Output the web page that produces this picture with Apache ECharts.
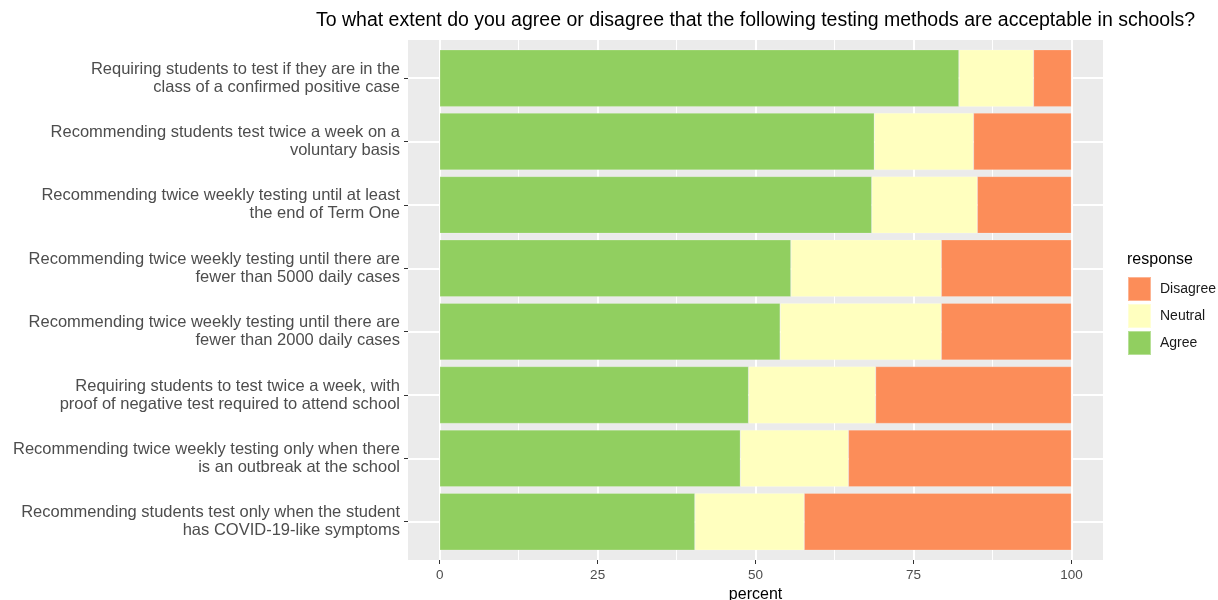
<!DOCTYPE html>
<html><head><meta charset="utf-8">
<script src="https://cdn.jsdelivr.net/npm/echarts@6/dist/echarts.min.js"></script>
<style>html,body{margin:0;padding:0;background:#fff}#c{width:1218px;height:600px}</style>
</head><body><div id="c"></div>
<script>
const categories = [
  "Requiring students to test if they are in the\nclass of a confirmed positive case",
  "Recommending students test twice a week on a\nvoluntary basis",
  "Recommending twice weekly testing until at least\nthe end of Term One",
  "Recommending twice weekly testing until there are\nfewer than 5000 daily cases",
  "Recommending twice weekly testing until there are\nfewer than 2000 daily cases",
  "Requiring students to test twice a week, with\nproof of negative test required to attend school",
  "Recommending twice weekly testing only when there\nis an outbreak at the school",
  "Recommending students test only when the student\nhas COVID-19-like symptoms"
];
const agree    = [82.2, 68.8, 68.4, 55.6, 53.9, 48.9, 47.6, 40.4];
const neutral  = [11.8, 15.7, 16.7, 23.8, 25.5, 20.1, 17.1, 17.3];
const disagree = [6.0, 15.5, 14.9, 20.6, 20.6, 31.0, 35.3, 42.3];
const xTicks = [0, 25, 50, 75, 100];
const legendOrder = ["Disagree", "Neutral", "Agree"];
const colors = {Agree: "#91CF60", Neutral: "#FFFFBF", Disagree: "#FC8D59"};

const font = "Liberation Sans, Arial, sans-serif";
const chart = echarts.init(document.getElementById('c'), null, {renderer: 'canvas'});
const mk = (name, data) => ({
  name, type: 'bar', stack: 'r', data, xAxisIndex: 3, yAxisIndex: 3,
  barWidth: '90%', itemStyle: {color: colors[name], borderColor: 'rgba(255,255,255,0.35)', borderWidth: 0.6},
  emphasis: {disabled: true}
});
const g = (o) => Object.assign({outerBoundsMode: 'none', containLabel: false}, o);
chart.setOption({
  animation: false,
  textStyle: {fontFamily: font},
  title: [
    {text: "To what extent do you agree or disagree that the following testing methods are acceptable in schools?",
     left: 316, top: 11, padding: 0, textStyle: {fontSize: 19.5, fontWeight: 'normal', color: '#000', fontFamily: font}},
    {text: "response", left: 1127, top: 252, padding: 0, textStyle: {fontSize: 16, fontWeight: 'normal', color: '#000', fontFamily: font}}
  ],
  legend: {
    data: legendOrder, orient: 'vertical', left: 1127, top: 276, padding: 0,
    itemWidth: 23, itemHeight: 24, itemGap: 1, icon: 'rect',
    textStyle: {fontSize: 14, color: '#1a1a1a', fontFamily: font, padding: [0, 0, 0, 4]},
    selectedMode: false
  },
  grid: [
    g({left: 408, right: 115, top: 40, bottom: 40, show: true, backgroundColor: '#EBEBEB', borderWidth: 0}),
    g({left: 408, right: 115, top: 78.2, bottom: 78.3}),
    g({left: 439.7, right: 146.6, top: 40, bottom: 40}),
    g({left: 439.7, right: 146.6, top: 46.5, bottom: 46.6})
  ],
  xAxis: [
    {gridIndex: 0, type: 'value', min: 0, max: 1, show: false},
    {gridIndex: 1, type: 'value', min: 0, max: 1, show: false},
    {gridIndex: 2, type: 'value', min: xTicks[0], max: xTicks[xTicks.length - 1], interval: 25,
     axisLine: {show: false},
     axisTick: {show: true, length: 4, lineStyle: {color: '#333', width: 1}},
     axisLabel: {fontSize: 13.5, color: '#4D4D4D', margin: 8, fontFamily: font},
     splitLine: {show: true, lineStyle: {color: '#fff', width: 2}},
     minorTick: {show: false, splitNumber: 2},
     minorSplitLine: {show: true, lineStyle: {color: '#fff', width: 1}},
     name: 'percent', nameLocation: 'middle', nameGap: 25,
     nameTextStyle: {fontSize: 16, color: '#000', fontFamily: font}},
    {gridIndex: 3, type: 'value', min: 0, max: 100, show: false}
  ],
  yAxis: [
    {gridIndex: 0, type: 'value', show: false},
    {gridIndex: 1, type: 'category', data: categories, inverse: true, boundaryGap: false,
     axisLine: {show: false},
     axisTick: {show: true, length: 4, lineStyle: {color: '#333', width: 1}},
     axisLabel: {fontSize: 16.5, lineHeight: 18, color: '#4D4D4D', margin: 8, interval: 0, align: 'right', fontFamily: font},
     splitLine: {show: true, interval: 0, lineStyle: {color: '#fff', width: 2}}},
    {gridIndex: 2, type: 'value', show: false},
    {gridIndex: 3, type: 'category', data: categories, inverse: true, show: false}
  ],
  series: [mk('Agree', agree), mk('Neutral', neutral), mk('Disagree', disagree)]
});
</script></body></html>
